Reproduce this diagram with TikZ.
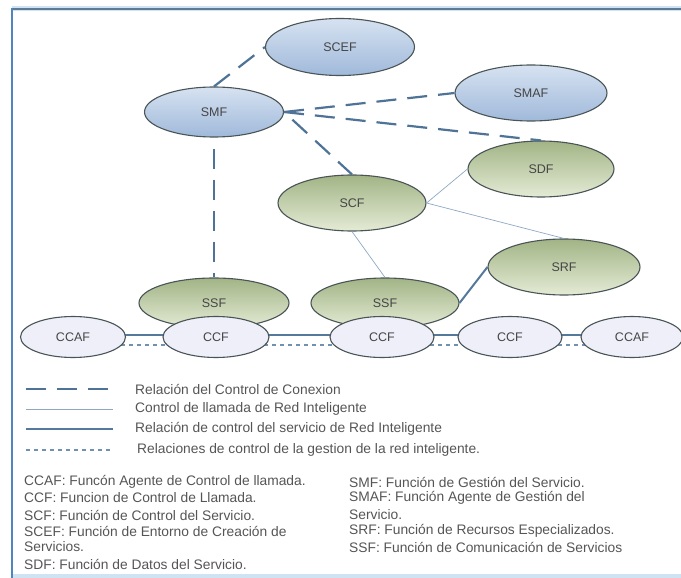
\documentclass[tikz,border=0pt]{standalone}
\usepackage{fontspec}
\setmainfont{Liberation Sans}
\usetikzlibrary{shapes.geometric,backgrounds}

\definecolor{framedark}{HTML}{5E7A96}
\definecolor{frameglow}{HTML}{CFE3F3}
\definecolor{frameleft}{HTML}{4F86BD}
\definecolor{edgegrey}{HTML}{4A5456}
\definecolor{blueTop}{HTML}{D6E2F1}
\definecolor{blueBot}{HTML}{A0B9DA}
\definecolor{greenTop}{HTML}{A2B486}
\definecolor{greenBot}{HTML}{E4EBD5}
\definecolor{callfill}{HTML}{EFEFFA}
\definecolor{linkdark}{HTML}{4E7397}
\definecolor{linkthin}{HTML}{8EA8C3}
\definecolor{linkthick}{HTML}{55799B}
\definecolor{linkdot}{HTML}{6F92B3}
\definecolor{txt}{HTML}{555555}
\definecolor{lbl}{HTML}{454545}

\tikzset{
  fn/.style={ellipse, draw=edgegrey, line width=1.1pt, inner sep=0pt,
             text=lbl, font=\fontsize{12.5}{14}\selectfont},
  bluefn/.style={fn, top color=blueTop, bottom color=blueBot},
  greenfn/.style={fn, top color=greenTop, bottom color=greenBot},
  callfn/.style={fn, fill=callfill},
  conexion/.style={linkdark, line width=2.2pt, dash pattern=on 20pt off 11pt},
  llamada/.style={linkthin, line width=0.7pt},
  servicio/.style={linkthick, line width=2pt},
  gestion/.style={linkdot, line width=2pt, dash pattern=on 4pt off 4pt},
  legtext/.style={anchor=west, inner sep=0pt, text=txt, font=\fontsize{13.8}{15}\selectfont},
  abbr/.style={anchor=west, inner sep=0pt, text=txt, font=\fontsize{13.8}{15}\selectfont}
}

\begin{document}
\begin{tikzpicture}[x=1pt, y=-1pt]
  \useasboundingbox (0,0) rectangle (681,578);
  \clip (0,0) rectangle (681,578);

  % frame
  \draw[frameglow, line width=5pt] (12,9) -- (690,9);
  \fill[frameglow] (12,574) rectangle (690,580);
  \draw[framedark, line width=2pt] (690,9) -- (12,9);
  \draw[frameleft, line width=2.6pt] (12,8) -- (12,580);

  % management functions
  \node[bluefn, minimum width=149pt, minimum height=57pt] (scef) at (340,47) {SCEF};
  \node[bluefn, minimum width=139pt, minimum height=50pt] (smf)  at (214,112) {SMF};
  \node[bluefn, minimum width=152pt, minimum height=56pt] (smaf) at (531,93) {SMAF};

  % service functions
  \node[greenfn, minimum width=146pt, minimum height=56pt] (sdf) at (541,169) {SDF};
  \node[greenfn, minimum width=148pt, minimum height=56pt] (scf) at (352,203) {SCF};
  \node[greenfn, minimum width=152pt, minimum height=56pt] (srf) at (564,267) {SRF};
  \node[greenfn, minimum width=150pt, minimum height=50pt] (ssfa) at (214,303) {SSF};
  \node[greenfn, minimum width=148pt, minimum height=50pt] (ssfb) at (385,303) {SSF};

  % call control functions
  \node[callfn, minimum width=105pt, minimum height=41pt] (ccafa) at (73,337) {CCAF};
  \node[callfn, minimum width=106pt, minimum height=41pt] (ccfa) at (216,337) {CCF};
  \node[callfn, minimum width=104pt, minimum height=41pt] (ccfb) at (382,337) {CCF};
  \node[callfn, minimum width=104pt, minimum height=41pt] (ccfc) at (510,337) {CCF};
  \node[callfn, minimum width=102pt, minimum height=41pt] (ccafb) at (632,337) {CCAF};

  % relations
  \draw[conexion] (smf.north) -- (scef.west);
  \draw[conexion] (smf.east) -- (smaf.west);
  \draw[conexion] (smf.east) -- (sdf.north);
  \draw[conexion, dash phase=19.6pt] (smf.east) -- (scf.north);
  \draw[conexion, dash phase=-11pt] (smf.south) -- (ssfa.north);
  \draw[llamada] (sdf.west) -- (scf.east);
  \draw[llamada] (scf.east) -- (srf.north);
  \draw[llamada] (scf.south) -- (ssfb.north);
  \draw[servicio] (ssfb.east) -- (srf.west);

  % call chain, drawn beneath the ellipses
  \begin{scope}[on background layer]
    \foreach \a/\b in {ccafa/ccfa, ccfa/ccfb, ccfb/ccfc, ccfc/ccafb} {
      \draw[servicio] ([yshift=2pt]\a.center) -- ([yshift=2pt]\b.center);
      \draw[gestion] ([yshift=-8pt]\a.center) -- ([yshift=-8pt]\b.center);
    }
  \end{scope}

  % legend
  \coordinate (la1) at (26,389);  \coordinate (lb1) at (113,389);
  \coordinate (la2) at (26,409);  \coordinate (lb2) at (113,409);
  \coordinate (la3) at (26,429);  \coordinate (lb3) at (113,429);
  \coordinate (la4) at (26,450);  \coordinate (lb4) at (113,450);
  \draw[conexion] (la1) -- (lb1);
  \draw[llamada] (la2) -- (lb2);
  \draw[servicio] (la3) -- (lb3);
  \draw[gestion] (la4) -- (lb4);
  \node[legtext] (t1) at (135,389) {Relación del Control de Conexion};
  \node[legtext] (t2) at (135,409) {Control de llamada de Red Inteligente};
  \node[legtext] (t3) at (135,429) {Relación de control del servicio de Red Inteligente};
  \node[legtext] (t4) at (137,450) {Relaciones de control de la gestion de la red inteligente.};

  % abbreviations
  \node[abbr] (a1) at (24,482) {CCAF: Funcón Agente de Control de llamada.};
  \node[abbr] (a2) at (24,498) {CCF: Funcion de Control de Llamada.};
  \node[abbr] (a3) at (24,515) {SCF: Función de Control del Servicio.};
  \node[abbr] (a4) at (24,531) {SCEF: Función de Entorno de Creación de};
  \node[abbr] (a5) at (24,547) {Servicios.};
  \node[abbr] (a6) at (24,564) {SDF: Función de Datos del Servicio.};
  \node[abbr] (b1) at (349,482) {SMF: Función de Gestión del Servicio.};
  \node[abbr] (b2) at (349,498) {SMAF: Función Agente de Gestión del};
  \node[abbr] (b3) at (349,515) {Servicio.};
  \node[abbr] (b4) at (349,531) {SRF: Función de Recursos Especializados.};
  \node[abbr] (b5) at (349,547) {SSF: Función de Comunicación de Servicios};
\end{tikzpicture}
\end{document}
